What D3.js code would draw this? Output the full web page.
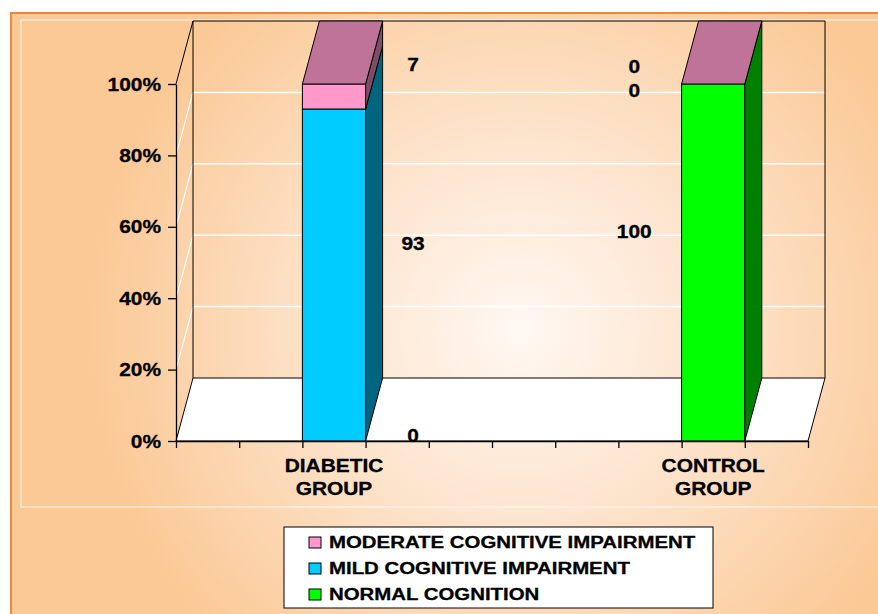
<!DOCTYPE html>
<html>
<head>
  <meta charset="utf-8">
  <script src="https://d3js.org/d3.v7.min.js"></script>
  <style>
    body { margin: 0; background: #fff; }
    text { font-family: "Liberation Sans", Arial, sans-serif; font-weight: bold; fill: #000; stroke: #000; stroke-width: 0.3px; }
  </style>
</head>
<body>
<div id="chart"></div>
<script>
"use strict";

// chart data - the original chart has blank category slots around the two groups
var categories = ["", "", "DIABETIC|GROUP", "", "", "", "", "", "CONTROL|GROUP", ""];
var normalCognition = [null, null, 0, null, null, null, null, null, 100, null];
var mildImpairment = [null, null, 93, null, null, null, null, null, 0, null];
var moderateImpairment = [null, null, 7, null, null, null, null, null, 0, null];
var seriesNames = ["NORMAL COGNITION", "MILD COGNITIVE IMPAIRMENT", "MODERATE COGNITIVE IMPAIRMENT"];
var yTicks = [0, 20, 40, 60, 80, 100];

var W = 878, H = 614;
var svg = d3.select("#chart").append("svg").attr("width", W).attr("height", H);

// 3d depth offset
var dx = 17, dy = -63;
var TEXT_STRETCH = 1.16;

var colors = [
  { front: "#00FF00", side: "#008000", top: "#00BF00" },
  { front: "#00CCFF", side: "#006680", top: "#0099BF" },
  { front: "#FF99CC", side: "#804D66", top: "#BF7399" }
];

// background
var defs = svg.append("defs");
var grad = defs.append("radialGradient").attr("id", "bg")
  .attr("gradientUnits", "userSpaceOnUse")
  .attr("cx", 520).attr("cy", 330).attr("r", 430);
grad.append("stop").attr("offset", "0%").attr("stop-color", "#FFF8F2");
grad.append("stop").attr("offset", "45%").attr("stop-color", "#FDE4CD");
grad.append("stop").attr("offset", "100%").attr("stop-color", "#FBC996");

svg.append("rect").attr("x", 11).attr("y", 13).attr("width", W).attr("height", H)
  .attr("fill", "url(#bg)").attr("stroke", "#EE873A").attr("stroke-width", 2);
svg.append("rect").attr("x", 21).attr("y", 20).attr("width", W).attr("height", 487)
  .attr("fill", "none").attr("stroke", "#fff").attr("stroke-opacity", 0.85).attr("stroke-width", 1);

var x = d3.scaleBand().domain(d3.range(categories.length)).range([176, 808]).padding(0);
var xEdge = d3.scaleLinear().domain([0, categories.length]).range([176, 808]);
var y = d3.scaleLinear().domain([0, 100]).range([441, 84]);

function label(g, txt, px, py, anchor, size, stretch) {
  g.append("g").attr("transform", "translate(" + px + "," + py + ") scale(" + (stretch || TEXT_STRETCH) + ",1)")
    .append("text").attr("text-anchor", anchor || "middle")
    .style("font-size", (size || 18) + "px").text(txt);
}

function poly(pts) { return pts.map(function (p) { return p.join(","); }).join(" "); }

var x0 = xEdge(0), x1 = xEdge(categories.length);

// back wall gridlines and side wall gridlines
yTicks.slice(1, -1).forEach(function (t) {
  svg.append("line").attr("x1", x0 + dx).attr("x2", x1 + dx)
    .attr("y1", y(t) + dy).attr("y2", y(t) + dy)
    .attr("stroke", "#fff").attr("stroke-width", 1.5);
  svg.append("line").attr("x1", x0).attr("x2", x0 + dx)
    .attr("y1", y(t)).attr("y2", y(t) + dy)
    .attr("stroke", "#fff").attr("stroke-width", 1.2);
});

// walls outline
svg.append("polyline")
  .attr("points", poly([[x0, y(100)], [x0 + dx, y(100) + dy], [x1 + dx, y(100) + dy], [x1 + dx, y(0) + dy]]))
  .attr("fill", "none").attr("stroke", "#000").attr("stroke-width", 1);
svg.append("line").attr("x1", x0 + dx).attr("x2", x0 + dx)
  .attr("y1", y(100) + dy).attr("y2", y(0) + dy).attr("stroke", "#000");

// floor
svg.append("polygon")
  .attr("points", poly([[x0, y(0)], [x1, y(0)], [x1 + dx, y(0) + dy], [x0 + dx, y(0) + dy]]))
  .attr("fill", "#fff").attr("stroke", "#000").attr("stroke-width", 1);

// stacked bars
var series = [normalCognition, mildImpairment, moderateImpairment];
var bars = svg.append("g");
var labels = svg.append("g");
var bw = x.bandwidth();

categories.forEach(function (c, i) {
  if (normalCognition[i] === null) return;
  var bx = x(i), base = 0;
  var zeroAt = {};
  series.forEach(function (s, k) {
    var v = s[i], top = base + v;
    var col = colors[k];
    if (v > 0) {
      bars.append("rect").attr("x", bx).attr("y", y(top)).attr("width", bw)
        .attr("height", y(base) - y(top))
        .attr("fill", col.front).attr("stroke", "#000").attr("stroke-width", 1);
      bars.append("polygon")
        .attr("points", poly([[bx + bw, y(base)], [bx + bw + dx, y(base) + dy], [bx + bw + dx, y(top) + dy], [bx + bw, y(top)]]))
        .attr("fill", col.side).attr("stroke", "#000").attr("stroke-width", 1);
    }
    if (k === series.length - 1) {
      bars.append("polygon")
        .attr("points", poly([[bx, y(top)], [bx + bw, y(top)], [bx + bw + dx, y(top) + dy], [bx + dx, y(top) + dy]]))
        .attr("fill", col.top).attr("stroke", "#000").attr("stroke-width", 1);
    }
    // data label beside the bar, toward the middle of the chart
    var dir = i < categories.length / 2 ? 1 : -1;
    var lx = bx + bw / 2 + dir * bw * 1.25;
    if (v > 0) {
      label(labels, v, lx, y(base + v / 2) + dy / 2 + 6.5);
    } else {
      (zeroAt[top] = zeroAt[top] || []).push({ v: v, lx: lx, k: k });
    }
    base = top;
  });
  Object.keys(zeroAt).forEach(function (pos) {
    var list = zeroAt[pos].slice().reverse();
    list.forEach(function (d, j) {
      var ly = y(+pos) - 6 + (j - (list.length - 1) / 2) * 24 + 6.5;
      label(labels, d.v, d.lx, ly);
    });
  });
});

// axes
var yAxis = svg.append("g").attr("transform", "translate(" + x0 + ",0)")
  .call(d3.axisLeft(y).tickValues(yTicks).tickFormat("").tickSize(8).tickSizeOuter(0));
var xAxis = svg.append("g").attr("transform", "translate(0," + y(0) + ")")
  .call(d3.axisBottom(xEdge).tickValues(d3.range(categories.length + 1)).tickFormat("").tickSize(7).tickSizeOuter(0));
[yAxis, xAxis].forEach(function (a) {
  a.selectAll("path, line").attr("stroke", "#000").attr("stroke-width", 1.3);
});

yTicks.forEach(function (t) {
  label(svg, t + "%", 161, y(t) + 6.5, "end");
});

categories.forEach(function (c, i) {
  c.split("|").forEach(function (line, j) {
    if (line) label(svg, line, x(i) + bw / 2, 472 + j * 23);
  });
});

// legend
var legend = svg.append("g");
legend.append("rect").attr("x", 284).attr("y", 527).attr("width", 429).attr("height", 81)
  .attr("fill", "#fff").attr("stroke", "#000").attr("stroke-width", 1);
seriesNames.slice().reverse().forEach(function (name, j) {
  var k = seriesNames.length - 1 - j;
  var by = 548 + j * 26;
  legend.append("rect").attr("x", 309).attr("y", by - 11).attr("width", 12).attr("height", 11)
    .attr("fill", colors[k].front).attr("stroke", "#000").attr("stroke-width", 1);
  label(legend, name, 329, by, "start", 17, 1.2);
});
</script>
</body>
</html>
